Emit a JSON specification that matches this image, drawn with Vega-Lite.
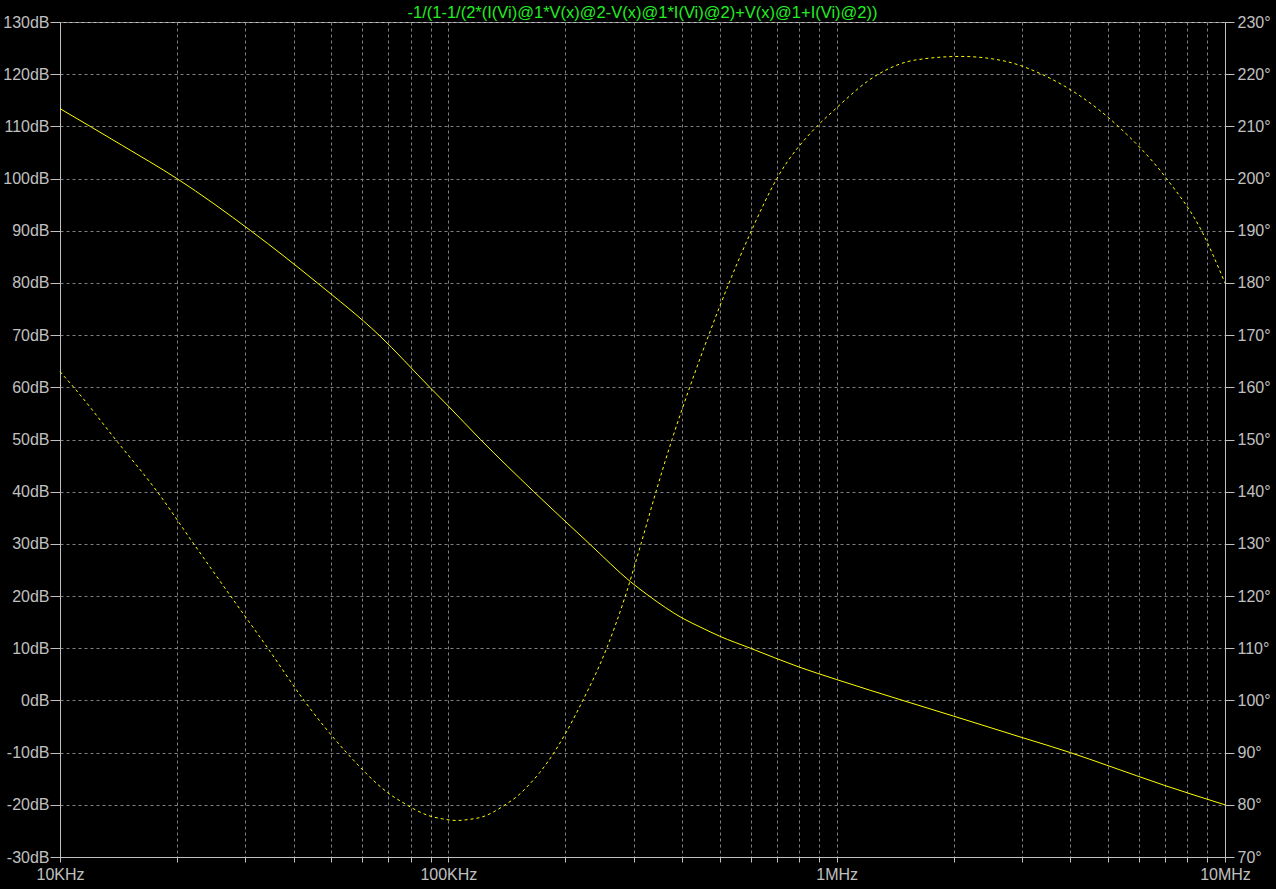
{
  "$schema": "https://vega.github.io/schema/vega-lite/v6.json",
  "width": 1165,
  "height": 835,
  "autosize": {"type": "none"},
  "padding": {"left": 60, "top": 22, "right": 51, "bottom": 32},
  "background": "#000000",
  "config": {
    "view": {"stroke": "#c0c0c0", "strokeWidth": 1},
    "font": "Liberation Sans",
    "axis": {
      "labelFont": "Liberation Sans",
      "labelFontSize": 16,
      "labelColor": "#c0c0c0",
      "domainColor": "#c0c0c0",
      "tickColor": "#c0c0c0",
      "gridColor": "#808080",
      "gridDash": [3, 3],
      "gridWidth": 1,
      "labelOverlap": false,
      "labelFlush": false,
      "title": null
    }
  },
  "title": {
    "text": "-1/(1-1/(2*(I(Vi)@1*V(x)@2-V(x)@1*I(Vi)@2)+V(x)@1+I(Vi)@2))",
    "color": "#22ee22",
    "font": "Liberation Sans",
    "fontSize": 16.5,
    "fontWeight": "normal",
    "anchor": "middle",
    "frame": "group",
    "baseline": "alphabetic",
    "offset": -20
  },
  "datasets": {
    "mag": [
      {"f": 10000, "dB": 113.4},
      {"f": 14500, "dB": 106.3},
      {"f": 20000, "dB": 100},
      {"f": 31000, "dB": 90},
      {"f": 46000, "dB": 80},
      {"f": 66300, "dB": 70},
      {"f": 89600, "dB": 60},
      {"f": 100000, "dB": 56.4},
      {"f": 121000, "dB": 50},
      {"f": 166000, "dB": 40},
      {"f": 231000, "dB": 30},
      {"f": 295000, "dB": 22.7},
      {"f": 329000, "dB": 20},
      {"f": 400000, "dB": 15.8},
      {"f": 450000, "dB": 13.9},
      {"f": 500000, "dB": 12.3},
      {"f": 600000, "dB": 10},
      {"f": 800000, "dB": 6.4},
      {"f": 1000000, "dB": 4.0},
      {"f": 1480000, "dB": 0},
      {"f": 2000000, "dB": -3.0},
      {"f": 3000000, "dB": -7.1},
      {"f": 4000000, "dB": -10},
      {"f": 5000000, "dB": -12.5},
      {"f": 7000000, "dB": -16.3},
      {"f": 10000000, "dB": -20}
    ],
    "phase": [
      {"f": 10000, "deg": 163},
      {"f": 10850, "deg": 160},
      {"f": 13900, "deg": 150},
      {"f": 17800, "deg": 140},
      {"f": 22100, "deg": 130},
      {"f": 27500, "deg": 120},
      {"f": 34300, "deg": 110},
      {"f": 42500, "deg": 100},
      {"f": 54700, "deg": 90},
      {"f": 71100, "deg": 81.9},
      {"f": 76900, "deg": 80.3},
      {"f": 82500, "deg": 79.0},
      {"f": 88400, "deg": 78.0},
      {"f": 96700, "deg": 77.3},
      {"f": 105000, "deg": 77.0},
      {"f": 113000, "deg": 77.2},
      {"f": 122500, "deg": 77.7},
      {"f": 131200, "deg": 78.7},
      {"f": 140000, "deg": 80},
      {"f": 150800, "deg": 81.7},
      {"f": 161600, "deg": 83.9},
      {"f": 172000, "deg": 86.2},
      {"f": 181000, "deg": 88.4},
      {"f": 222000, "deg": 100},
      {"f": 255700, "deg": 110},
      {"f": 285600, "deg": 120},
      {"f": 313400, "deg": 130},
      {"f": 342600, "deg": 140},
      {"f": 376700, "deg": 150},
      {"f": 418400, "deg": 160},
      {"f": 468300, "deg": 170},
      {"f": 528400, "deg": 180},
      {"f": 603200, "deg": 190},
      {"f": 701500, "deg": 200},
      {"f": 889200, "deg": 210},
      {"f": 968000, "deg": 212.6},
      {"f": 1280000, "deg": 220},
      {"f": 1590000, "deg": 222.7},
      {"f": 2090000, "deg": 223.4},
      {"f": 2710000, "deg": 222.5},
      {"f": 3370000, "deg": 220},
      {"f": 5310000, "deg": 210},
      {"f": 7070000, "deg": 200},
      {"f": 8700000, "deg": 190},
      {"f": 10000000, "deg": 180}
    ]
  },
  "encoding": {
    "x": {
      "field": "f",
      "type": "quantitative",
      "scale": {"type": "log", "domain": [10000, 10000000], "nice": false},
      "axis": {
        "orient": "bottom",
        "values": [10000, 20000, 30000, 40000, 50000, 60000, 70000, 80000, 90000, 100000, 200000, 300000, 400000, 500000, 600000, 700000, 800000, 900000, 1000000, 2000000, 3000000, 4000000, 5000000, 6000000, 7000000, 8000000, 9000000, 10000000],
        "labelExpr": "datum.value == 10000 ? '10KHz' : datum.value == 100000 ? '100KHz' : datum.value == 1000000 ? '1MHz' : datum.value == 10000000 ? '10MHz' : ''",
        "grid": true,
        "tickSize": 5,
        "labelPadding": 4
      }
    }
  },
  "layer": [
    {
      "data": {"name": "mag"},
      "mark": {"type": "line", "color": "#ffff00", "strokeWidth": 1, "interpolate": "monotone"},
      "encoding": {
        "y": {
          "field": "dB",
          "type": "quantitative",
          "scale": {"domain": [-30, 130], "nice": false, "zero": false},
          "axis": {
            "orient": "left",
            "values": [-30, -20, -10, 0, 10, 20, 30, 40, 50, 60, 70, 80, 90, 100, 110, 120, 130],
            "labelExpr": "datum.value + 'dB'",
            "grid": true,
            "tickSize": 10,
            "labelPadding": 1
          }
        }
      }
    },
    {
      "data": {"name": "phase"},
      "mark": {"type": "line", "color": "#ffff00", "strokeWidth": 1, "strokeDash": [3, 3], "interpolate": "monotone"},
      "encoding": {
        "y": {
          "field": "deg",
          "type": "quantitative",
          "scale": {"domain": [70, 230], "nice": false, "zero": false},
          "axis": {
            "orient": "right",
            "values": [70, 80, 90, 100, 110, 120, 130, 140, 150, 160, 170, 180, 190, 200, 210, 220, 230],
            "labelExpr": "datum.value + '°'",
            "grid": false,
            "tickSize": 9,
            "labelPadding": 3
          }
        }
      }
    }
  ],
  "resolve": {"scale": {"y": "independent"}}
}
